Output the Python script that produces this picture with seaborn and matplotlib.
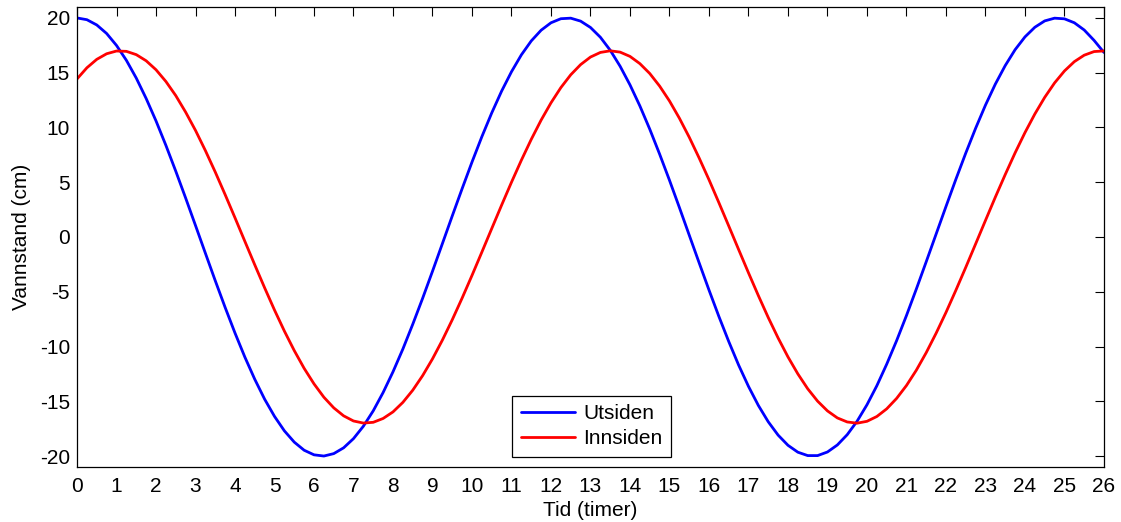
import numpy as np
import pandas as pd
import matplotlib
matplotlib.use("Agg")
import matplotlib.pyplot as plt
import seaborn as sns

# Time axis (hours), one reading every quarter hour
tid = [i / 4 for i in range(0, 105)]

# Water level outside the barrier (cm)
utsiden = [
    20.00, 19.84, 19.36, 18.58, 17.49, 16.13, 14.51, 12.65, 10.60, 8.37,
    6.01, 3.56, 1.05, -1.48, -3.99, -6.43, -8.77, -10.97, -12.99, -14.81,
    -16.38, -17.70, -18.73, -19.47, -19.89, -20.00, -19.78, -19.25, -18.41, -17.28,
    -15.87, -14.20, -12.31, -10.23, -7.97, -5.60, -3.13, -0.61, 1.92, 4.41,
    6.84, 9.16, 11.33, 13.32, 15.09, 16.63, 17.90, 18.88, 19.56, 19.93,
    19.98, 19.71, 19.13, 18.24, 17.05, 15.59, 13.89, 11.97, 9.85, 7.57,
    5.18, 2.70, 0.17, -2.35, -4.84, -7.25, -9.54, -11.69, -13.64, -15.38,
    -16.87, -18.09, -19.02, -19.65, -19.96, -19.96, -19.63, -18.99, -18.05, -16.82,
    -15.32, -13.58, -11.61, -9.47, -7.17, -4.75, -2.26, 0.26, 2.78, 5.26,
    7.65, 9.92, 12.04, 13.96, 15.65, 17.10, 18.27, 19.15, 19.73, 19.98,
    19.92, 19.56, 18.90, 17.95, 16.85,
]

# Water level inside the barrier (cm)
innsiden = [
    14.43, 15.45, 16.22, 16.73, 16.98, 16.95, 16.65, 16.09, 15.27, 14.20,
    12.91, 11.40, 9.73, 7.89, 5.93, 3.87, 1.75, -0.40, -2.54, -4.64,
    -6.67, -8.59, -10.37, -11.99, -13.41, -14.63, -15.60, -16.33, -16.80, -16.99,
    -16.92, -16.57, -15.97, -15.10, -13.99, -12.66, -11.13, -9.42, -7.56, -5.58,
    -3.51, -1.38, 0.77, 2.91, 5.00, 7.01, 8.91, 10.67, 12.25, 13.64,
    14.81, 15.74, 16.43, 16.85, 17.00, 16.88, 16.49, 15.83, 14.93, 13.78,
    12.42, 10.85, 9.11, 7.22, 5.23, 3.14, 1.01, -1.14, -3.27, -5.35,
    -7.35, -9.22, -10.95, -12.50, -13.86, -14.99, -15.88, -16.52, -16.89, -17.00,
    -16.83, -16.39, -15.69, -14.74, -13.56, -12.16, -10.56, -8.79, -6.89, -4.87,
    -2.78, -0.64, 1.51, 3.64, 5.70, 7.68, 9.53, 11.23, 12.75, 14.07,
    15.16, 16.01, 16.60, 16.93, 16.99,
]

serier = ["Utsiden", "Innsiden"]
farger = ["#0000ff", "#ff0000"]

df = pd.DataFrame({
    "tid": tid * 2,
    "vannstand": utsiden + innsiden,
    "side": ["Utsiden"] * len(tid) + ["Innsiden"] * len(tid),
})

sns.set_style("white")
plt.rcParams["font.family"] = ["Liberation Sans", "DejaVu Sans"]
plt.rcParams["font.size"] = 15
plt.rcParams["text.color"] = "black"
plt.rcParams["axes.labelcolor"] = "black"

fig = plt.figure(figsize=(11.21, 5.22), dpi=100)
ax = fig.add_axes([0.0687, 0.1054, 0.9161, 0.8812])

sns.lineplot(data=df, x="tid", y="vannstand", hue="side", hue_order=serier,
             palette=farger, linewidth=2.0, ax=ax, sort=False)

ax.set_xlim(0, 26)
ax.set_ylim(-21, 21)
ax.set_xticks(range(0, 27))
ax.set_yticks(range(-20, 21, 5))
ax.set_yticklabels([str(v) for v in range(-20, 21, 5)])
ax.tick_params(direction="in", length=6.5, width=0.8, top=True, right=True,
               labelsize=15, colors="black")
ax.tick_params(axis="x", pad=7)
ax.tick_params(axis="y", pad=5)
for s in ax.spines.values():
    s.set_color("black")
    s.set_linewidth(0.9)

ax.set_xlabel("Tid (timer)", fontsize=15, labelpad=4, color="black")
ax.set_ylabel("Vannstand (cm)", fontsize=15, labelpad=6, color="black")

leg = ax.legend(loc="lower center", bbox_to_anchor=(0.501, 0.0), frameon=True,
                fancybox=False, framealpha=1, edgecolor="black", fontsize=15,
                handlelength=2.6, handletextpad=0.4, borderpad=0.4,
                labelspacing=0.3, borderaxespad=0.5)
leg.get_frame().set_linewidth(0.9)
for t in leg.get_texts():
    t.set_color("black")

fig.savefig("out.png", dpi=100)
